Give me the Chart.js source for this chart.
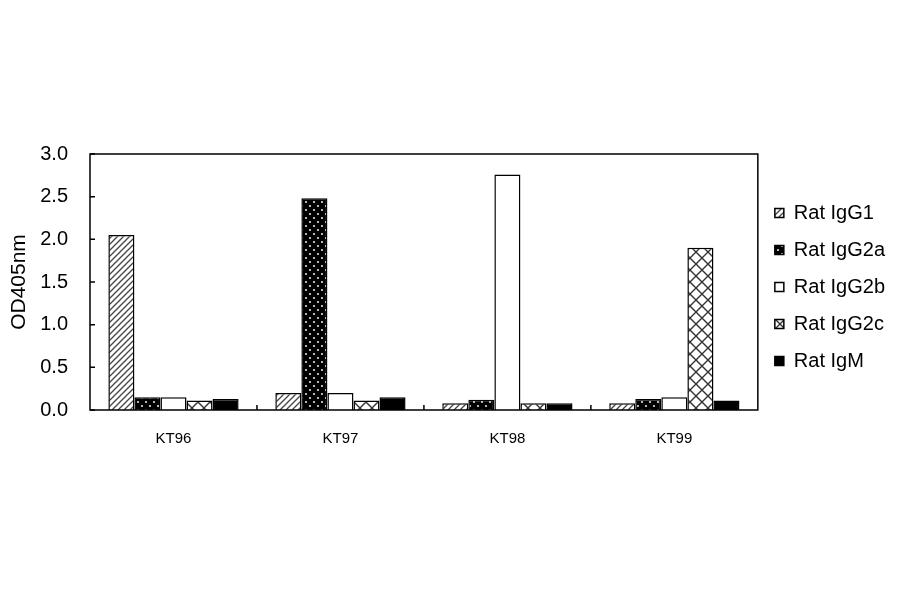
<!DOCTYPE html>
<html lang="en">
<head>
    <meta charset="UTF-8">
    <title>Rat Ig isotype ELISA</title>
    <script src="https://cdn.jsdelivr.net/npm/chart.js"></script>
    <style>
        body, html {
            margin: 0;
            padding: 0;
            background: #fff;
        }
        .chart-container {
            width: 900px;
            height: 594px;
        }
    </style>
</head>
<body>
    <div class="chart-container">
        <canvas id="isoChart"></canvas>
    </div>

    <script>
        // Data
        const categories = ['KT96', 'KT97', 'KT98', 'KT99'];
        const seriesNames = ['Rat IgG1', 'Rat IgG2a', 'Rat IgG2b', 'Rat IgG2c', 'Rat IgM'];
        const igg1 = [2.05, 0.20, 0.08, 0.08];
        const igg2a = [0.15, 2.48, 0.12, 0.13];
        const igg2b = [0.15, 0.20, 2.76, 0.15];
        const igg2c = [0.11, 0.11, 0.08, 1.90];
        const igm = [0.13, 0.15, 0.08, 0.11];
        const yTicks = [0, 0.5, 1.0, 1.5, 2.0, 2.5, 3.0];

        const FONT = "'Liberation Sans', Arial, sans-serif";

        // fill patterns
        function makeTile(size, draw) {
            const c = document.createElement('canvas');
            c.width = size;
            c.height = size;
            const g = c.getContext('2d');
            draw(g, size);
            return g.createPattern(c, 'repeat');
        }

        const stripes = makeTile(6, (g, s) => {
            g.fillStyle = '#fff';
            g.fillRect(0, 0, s, s);
            g.strokeStyle = '#444';
            g.lineWidth = 1.3;
            g.beginPath();
            g.moveTo(-1, s + 1); g.lineTo(s + 1, -1);
            g.moveTo(-1, 1); g.lineTo(1, -1);
            g.moveTo(s - 1, s + 1); g.lineTo(s + 1, s - 1);
            g.stroke();
        });

        const dots = makeTile(8, (g, s) => {
            g.fillStyle = '#000';
            g.fillRect(0, 0, s, s);
            g.fillStyle = '#ddd';
            g.beginPath();
            g.arc(2, 2, 1.1, 0, Math.PI * 2);
            g.arc(6, 6, 1.1, 0, Math.PI * 2);
            g.fill();
        });

        const crosses = makeTile(12, (g, s) => {
            g.fillStyle = '#fff';
            g.fillRect(0, 0, s, s);
            g.strokeStyle = '#333';
            g.lineWidth = 1.4;
            g.beginPath();
            g.moveTo(0, 0); g.lineTo(s, s);
            g.moveTo(0, s); g.lineTo(s, 0);
            g.stroke();
        });

        const fills = [stripes, dots, '#fff', crosses, '#000'];
        const values = [igg1, igg2a, igg2b, igg2c, igm];

        const datasets = seriesNames.map((name, i) => ({
            label: name,
            data: values[i],
            backgroundColor: fills[i],
            borderColor: '#000',
            borderWidth: 1.5,
            categoryPercentage: 0.78,
            barPercentage: 1.0
        }));

        // frame + inward tick marks
        const framePlugin = {
            id: 'frame',
            afterDatasetsDraw(chart) {
                const { ctx, chartArea: a, scales } = chart;
                ctx.save();
                ctx.strokeStyle = '#000';
                ctx.lineWidth = 1.5;
                ctx.strokeRect(a.left, a.top, a.right - a.left, a.bottom - a.top);
                ctx.beginPath();
                yTicks.forEach(v => {
                    const y = scales.y.getPixelForValue(v);
                    ctx.moveTo(a.left, y);
                    ctx.lineTo(a.left + 5, y);
                });
                for (let i = 0; i < categories.length - 1; i++) {
                    const x = (scales.x.getPixelForValue(i) + scales.x.getPixelForValue(i + 1)) / 2;
                    ctx.moveTo(x, a.bottom);
                    ctx.lineTo(x, a.bottom - 5);
                }
                ctx.stroke();
                ctx.restore();
            }
        };

        const ctx = document.getElementById('isoChart').getContext('2d');
        const isoChart = new Chart(ctx, {
            type: 'bar',
            data: {
                labels: categories,
                datasets: datasets
            },
            plugins: [framePlugin],
            options: {
                responsive: true,
                maintainAspectRatio: false,
                animation: false,
                layout: {
                    padding: { top: 154, bottom: 144, left: 0, right: 5 }
                },
                plugins: {
                    tooltip: { enabled: false },
                    legend: {
                        position: 'right',
                        fullSize: false,
                        // empty title only nudges the items down a little
                        title: {
                            display: true,
                            text: '',
                            padding: 2,
                            font: { size: 5 }
                        },
                        labels: {
                            color: '#000',
                            boxWidth: 9,
                            boxHeight: 9,
                            padding: 17,
                            font: { family: FONT, size: 20 }
                        }
                    }
                },
                scales: {
                    x: {
                        grid: { display: false, drawTicks: false },
                        border: { display: false },
                        afterFit: (axis) => { axis.height = 40; },
                        ticks: {
                            color: '#000',
                            padding: 20,
                            font: { family: FONT, size: 15 }
                        }
                    },
                    y: {
                        min: 0,
                        max: 3.0,
                        afterBuildTicks: (axis) => {
                            axis.ticks = yTicks.map(v => ({ value: v }));
                        },
                        afterFit: (axis) => { axis.width = 90; },
                        grid: { display: false, drawTicks: false },
                        border: { display: false },
                        ticks: {
                            color: '#000',
                            padding: 22,
                            font: { family: FONT, size: 20 },
                            callback: (v) => Number(v).toFixed(1)
                        },
                        title: {
                            display: true,
                            text: 'OD405nm',
                            color: '#000',
                            padding: { top: 7, bottom: 10 },
                            font: { family: FONT, size: 21 }
                        }
                    }
                }
            }
        });
    </script>
</body>
</html>
